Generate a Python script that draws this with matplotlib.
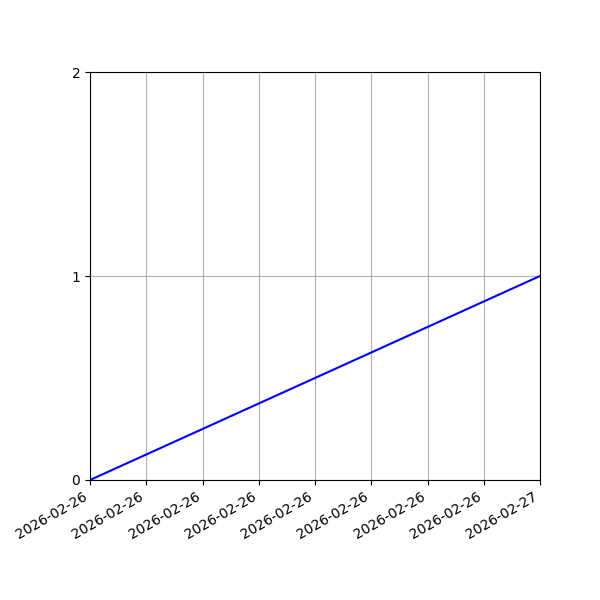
import datetime
import matplotlib
matplotlib.use('Agg')
import matplotlib.pyplot as plt
import matplotlib.dates as mdates

dates = [datetime.datetime(2026, 2, 26, 0, 0), datetime.datetime(2026, 2, 27, 0, 0)]
values = [0, 1]
y_ticks = [0, 1, 2]

fig, ax = plt.subplots(figsize=(6, 6), dpi=100)
ax.plot(dates, values, color='blue')
ax.set_xlim(dates[0], dates[-1])
ax.set_ylim(0, 2)
ax.set_yticks(y_ticks)
ax.xaxis.set_major_locator(mdates.HourLocator(interval=3))
ax.xaxis.set_major_formatter(mdates.DateFormatter('%Y-%m-%d'))
ax.grid(True)
fig.autofmt_xdate()
fig.subplots_adjust(left=0.15, right=0.9, top=0.88, bottom=0.2)
fig.savefig('out.png')
